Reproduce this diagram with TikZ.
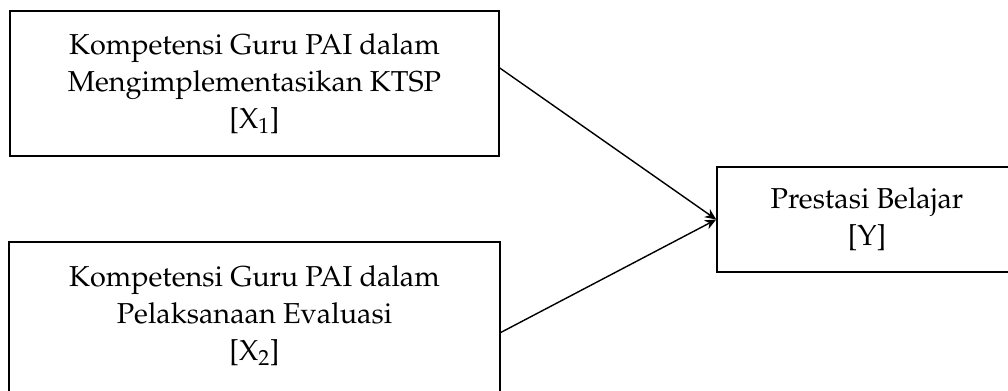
\documentclass[tikz,border=0pt]{standalone}
\usepackage[T1]{fontenc}
\usepackage{mathpazo}
\usepackage{tikz}
\usetikzlibrary{arrows.meta,calc,positioning}
\tikzset{kotak/.style={draw=black, line width=1.1pt, align=center, inner sep=0pt,
    font=\fontsize{20.5}{26.3}\selectfont},
  panah/.style={line width=1pt, -{Stealth[length=8pt,width=7pt]}}}

\begin{document}
\begin{tikzpicture}[x=0.025cm, y=-0.025cm]
\useasboundingbox (0,0) rectangle (1008,390);

\node[kotak, minimum width=489*0.025cm, minimum height=145*0.025cm] (x1) at (254.5,83.5)
  {Kompetensi Guru PAI dalam\\ Mengimplementasikan KTSP\\ {[}X\textsubscript{1}{]}};
% kotak bawah terpotong di tepi gambar
\node[kotak, draw=none, minimum width=489*0.025cm, minimum height=145*0.025cm] (x2) at (254.5,315.5)
  {Kompetensi Guru PAI dalam\\ Pelaksanaan Evaluasi\\ {[}X\textsubscript{2}{]}};
\draw[line width=1.1pt] (x2.north west) rectangle ($(x2.south east)+(0,15)$);
\node[kotak, minimum width=300*0.025cm, minimum height=105*0.025cm] (y) at (867,219.5)
  {Prestasi Belajar\\ {[}Y{]}};

\draw[panah] ($(x1.east)+(0,-15.5)$) -- (y.west);
\draw[panah] ($(x2.east)+(0,17.5)$) -- (y.west);

\end{tikzpicture}
\end{document}
